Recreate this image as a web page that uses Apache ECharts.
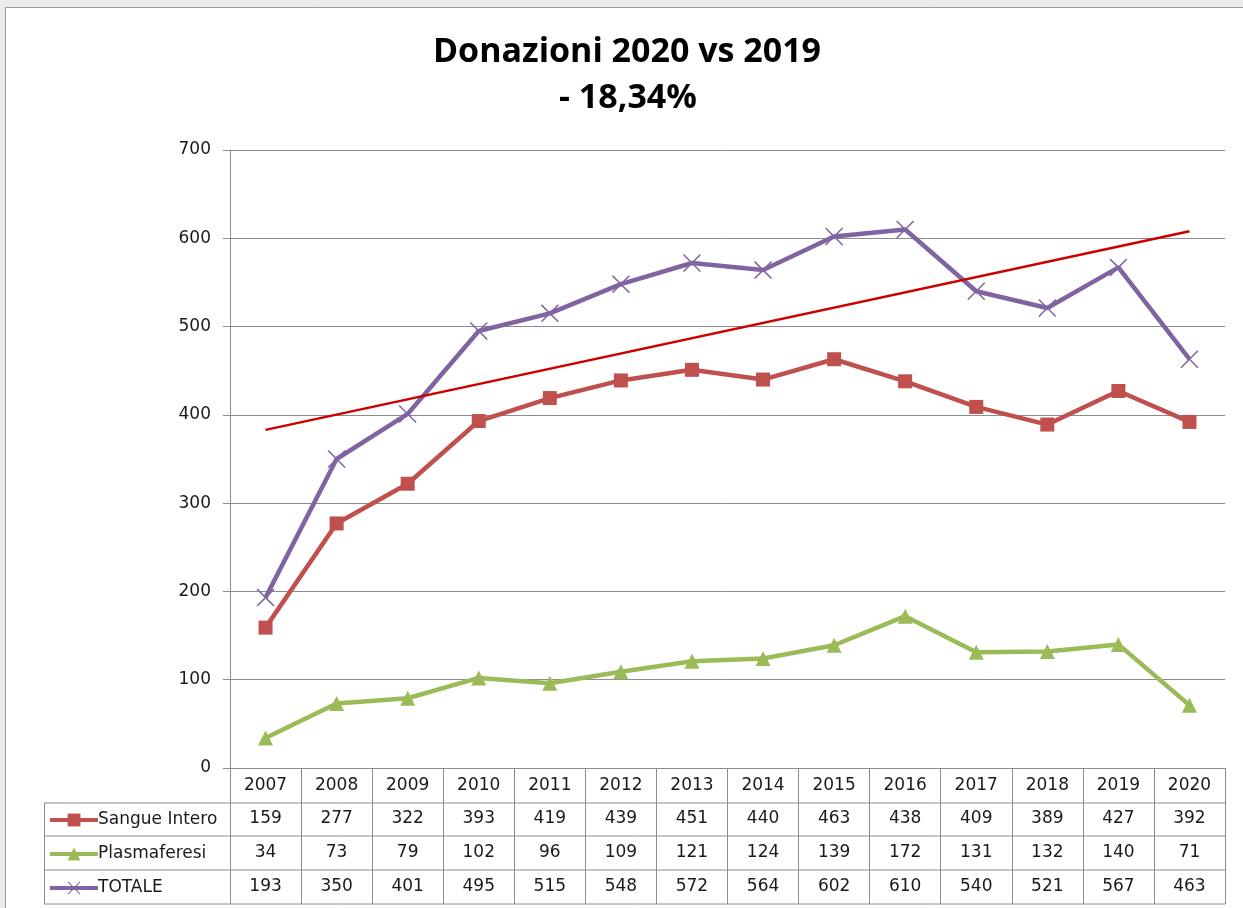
<!DOCTYPE html>
<html>
<head>
<meta charset="utf-8">
<script src="https://cdn.jsdelivr.net/npm/echarts@6/dist/echarts.min.js"></script>
<style>
html, body { margin: 0; padding: 0; background: #ffffff; }
#main { width: 1243px; height: 908px; }
</style>
</head>
<body>
<div id="main"></div>
<script>
var anni = ['2007','2008','2009','2010','2011','2012','2013','2014','2015','2016','2017','2018','2019','2020'];
var sangueIntero = [159, 277, 322, 393, 419, 439, 451, 440, 463, 438, 409, 389, 427, 392];
var plasmaferesi = [34, 73, 79, 102, 96, 109, 121, 124, 139, 172, 131, 132, 140, 71];
var totale = [193, 350, 401, 495, 515, 548, 572, 564, 602, 610, 540, 521, 567, 463];
var tendenza = [383, 608]; // linea di tendenza (2007 -> 2020)
var yTicks = [0, 700, 100];

window.onload = function(){
    var myChart = echarts.init(document.getElementById('main'));
    var font = 'DejaVu Sans';
    var grigio = '#8c8c8c';
    var xShape = 'path://M0,0.6L0.6,0L5,4.4L9.4,0L10,0.6L5.6,5L10,9.4L9.4,10L5,5.6L0.6,10L0,9.4L4.4,5Z';

    // righe della tabella sotto al grafico
    function riga(valori, offset){
        return {
            type: 'category',
            gridIndex: 0,
            position: 'bottom',
            offset: offset,
            data: valori.map(String),
            axisLine: {show: false},
            axisTick: {show: false},
            axisLabel: {interval: 0, margin: 9, color: '#1a1a1a', fontFamily: font, fontSize: 17}
        };
    }

    var option = {
        animation: false,
        backgroundColor: '#ffffff',
        color: ['#c0504d', '#9bbb59', '#8064a2'],
        grid: {left: 230, right: 18, top: 150, bottom: 140},
        legend: {
            orient: 'vertical',
            left: 43,
            top: 805,
            itemWidth: 48,
            itemHeight: 16,
            itemGap: 14,
            data: ['Sangue Intero', 'Plasmaferesi', 'TOTALE'],
            lineStyle: {width: 4},
            textStyle: {color: '#1a1a1a', fontFamily: font, fontSize: 17, lineHeight: 20, padding: [0, 0, 0, -5]}
        },
        graphic: [
            {type: 'rect', shape: {x: 0, y: 0, width: 1243, height: 7}, style: {fill: '#ebebeb'}, silent: true},
            {type: 'rect', shape: {x: 0, y: 0, width: 5, height: 908}, style: {fill: '#ebebeb'}, silent: true},
            {type: 'line', shape: {x1: 5, y1: 7.5, x2: 1243, y2: 7.5}, style: {stroke: '#9a9a9a', lineWidth: 1}},
            {type: 'line', shape: {x1: 5.5, y1: 7, x2: 5.5, y2: 908}, style: {stroke: '#9a9a9a', lineWidth: 1}},
            {type: 'text', x: 627, y: 52, style: {text: 'Donazioni 2020 vs 2019', font: 'bold 34px "Open Sans"', fill: '#000', align: 'center', verticalAlign: 'middle'}},
            {type: 'text', x: 628, y: 98, style: {text: '- 18,34%', font: 'bold 34px "Open Sans"', fill: '#000', align: 'center', verticalAlign: 'middle'}},
            // griglia della tabella
            {type: 'line', shape: {x1: 44, y1: 803, x2: 1225, y2: 803}, style: {stroke: grigio, lineWidth: 1}},
            {type: 'line', shape: {x1: 44, y1: 836, x2: 1225, y2: 836}, style: {stroke: grigio, lineWidth: 1}},
            {type: 'line', shape: {x1: 44, y1: 870, x2: 1225, y2: 870}, style: {stroke: grigio, lineWidth: 1}},
            {type: 'line', shape: {x1: 44, y1: 904, x2: 1225, y2: 904}, style: {stroke: grigio, lineWidth: 1}},
            {type: 'line', shape: {x1: 44.5, y1: 803, x2: 44.5, y2: 904}, style: {stroke: grigio, lineWidth: 1}}
        ],
        xAxis: [
            {
                type: 'category',
                data: anni,
                boundaryGap: true,
                axisLine: {lineStyle: {color: grigio, width: 1}},
                axisTick: {show: true, interval: 0, length: 136, lineStyle: {color: grigio}},
                axisLabel: {interval: 0, margin: 9, color: '#1a1a1a', fontFamily: font, fontSize: 17}
            },
            riga(sangueIntero, 33),
            riga(plasmaferesi, 67),
            riga(totale, 101)
        ],
        yAxis: {
            type: 'value',
            min: yTicks[0],
            max: yTicks[1],
            interval: yTicks[2],
            axisLine: {show: true, lineStyle: {color: grigio}},
            axisTick: {show: true, length: 7, lineStyle: {color: grigio}},
            axisLabel: {margin: 19, color: '#1a1a1a', fontFamily: font, fontSize: 17, padding: [3, 0, 0, 0]},
            splitLine: {lineStyle: {color: grigio, width: 1}}
        },
        series: [
            {
                name: 'Sangue Intero',
                type: 'line',
                data: sangueIntero,
                symbol: 'rect',
                symbolSize: 14,
                lineStyle: {width: 4.5},
                z: 3
            },
            {
                name: 'Plasmaferesi',
                type: 'line',
                data: plasmaferesi,
                symbol: 'triangle',
                symbolSize: 15,
                lineStyle: {width: 4.5},
                z: 3
            },
            {
                name: 'TOTALE',
                type: 'line',
                data: totale,
                symbol: xShape,
                symbolSize: 18,
                lineStyle: {width: 4.5},
                z: 3
            },
            {
                name: 'Tendenza',
                type: 'line',
                data: [[0, tendenza[0]], [anni.length - 1, tendenza[1]]],
                symbol: 'none',
                lineStyle: {width: 2.5, color: '#cc0000'},
                itemStyle: {color: '#cc0000'},
                z: 4
            }
        ]
    };
    myChart.setOption(option);

    window.onresize = function(){
        myChart.resize();
    };
};
</script>
</body>
</html>
